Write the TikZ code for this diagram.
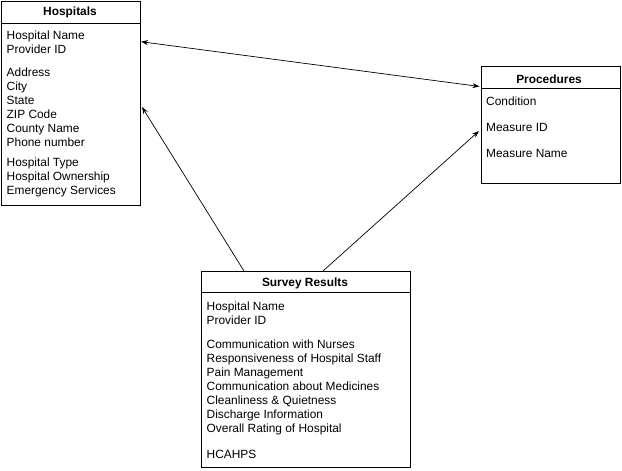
\documentclass[tikz,border=0pt]{standalone}
\usepackage{fontspec}
\setmainfont{Liberation Sans}
\usetikzlibrary{arrows.meta}
\begin{document}
\begin{tikzpicture}[x=1pt,y=-1pt,
  tbl/.style={draw=black,line width=0.9pt,inner sep=0pt,anchor=north west},
  hdr/.style={anchor=base,inner sep=0pt,font=\fontsize{11.9}{14}\selectfont\bfseries},
  fld/.style={anchor=base west,inner sep=0pt,font=\fontsize{11.9}{14}\selectfont},
  conn/.style={line width=0.7pt,-{Stealth[length=7pt,width=5pt]}}]
\useasboundingbox (0,0) rectangle (622,471);
% Hospitals
\node[tbl,minimum width=139.5pt,minimum height=204.5pt] (hosp) at (0.5,0.8) {};
\draw[line width=0.9pt] (0.5,23.3) -- (140,23.3);
\node[hdr] (hh) at (70,15.7) {Hospitals};
\node[fld] (h1) at (6.5,39) {Hospital Name};
\node[fld] (h2) at (6.5,53) {Provider ID};
\node[fld] (h3) at (6.5,76.7) {Address};
\node[fld] (h4) at (6.5,90.7) {City};
\node[fld] (h5) at (6.5,104.7) {State};
\node[fld] (h6) at (6.5,118.7) {ZIP Code};
\node[fld] (h7) at (6.5,132.7) {County Name};
\node[fld] (h8) at (6.5,146.7) {Phone number};
\node[fld] (h9) at (6.5,166.7) {Hospital Type};
\node[fld] (h10) at (6.5,180.7) {Hospital Ownership};
\node[fld] (h11) at (6.5,194.7) {Emergency Services};
% Procedures
\node[tbl,minimum width=139.5pt,minimum height=116.5pt] (proc) at (480.5,66.3) {};
\draw[line width=0.9pt] (480.5,88.3) -- (620,88.3);
\node[hdr] (ph) at (549,83.3) {Procedures};
\node[fld] (p1) at (486,105.5) {Condition};
\node[fld] (p2) at (486,131.7) {Measure ID};
\node[fld] (p3) at (486,157.2) {Measure Name};
% Survey Results
\node[tbl,minimum width=209.5pt,minimum height=195.5pt] (surv) at (200.5,271.2) {};
\draw[line width=0.9pt] (200.5,292.8) -- (410,292.8);
\node[hdr] (sh) at (305,286.7) {Survey Results};
\node[fld] (s1) at (206.5,310) {Hospital Name};
\node[fld] (s2) at (206.5,324) {Provider ID};
\node[fld] (s3) at (206.5,348) {Communication with Nurses};
\node[fld] (s4) at (206.5,362) {Responsiveness of Hospital Staff};
\node[fld] (s5) at (206.5,376) {Pain Management};
\node[fld] (s6) at (206.5,390) {Communication about Medicines};
\node[fld] (s7) at (206.5,404) {Cleanliness \& Quietness};
\node[fld] (s8) at (206.5,418) {Discharge Information};
\node[fld] (s9) at (206.5,432) {Overall Rating of Hospital};
\node[fld] (s10) at (206.5,458) {HCAHPS};
% connector end points on the borders
\coordinate (hA) at (141,41.7);
\coordinate (hB) at (142,107);
\coordinate (pA) at (479.5,86.5);
\coordinate (pB) at (479,131);
\coordinate (sA) at (244,271);
\coordinate (sB) at (323,271);
\draw[line width=0.7pt,{Stealth[length=7pt,width=5pt]}-{Stealth[length=7pt,width=5pt]}] (hA) -- (pA);
\draw[conn] (sA) -- (hB);
\draw[conn] (sB) -- (pB);
\end{tikzpicture}
\end{document}
